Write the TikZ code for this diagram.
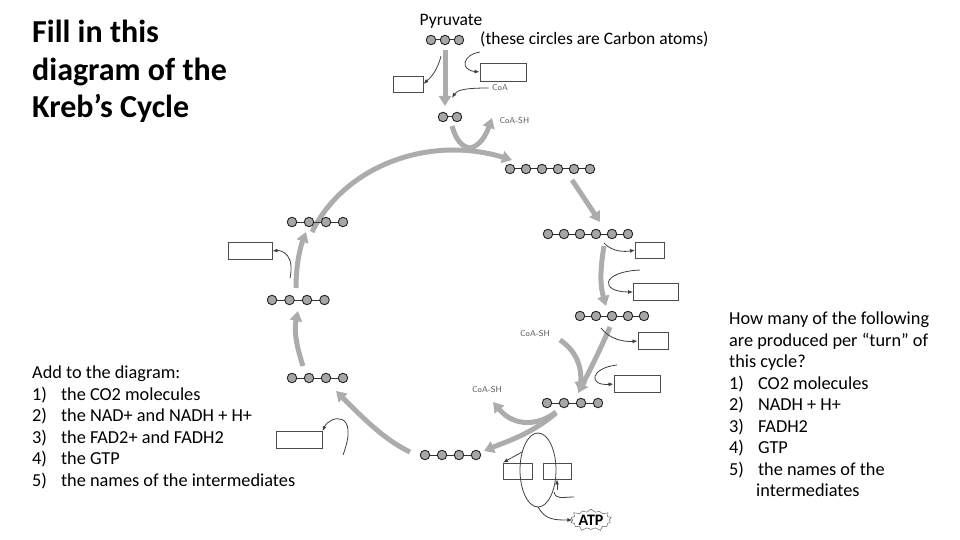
\documentclass[tikz,border=0pt]{standalone}
\usepackage{fontspec}
\setmainfont{Carlito}
\usetikzlibrary{arrows.meta,shapes.symbols}
\begin{document}
\begin{tikzpicture}[x=1pt,y=-1pt,
  catom/.style={circle,draw=black!85,fill=gray!70,inner sep=0pt,minimum size=9.5pt,line width=0.9pt},
  bond/.style={black!80,line width=1pt},
  box/.style={draw=black!70,line width=0.9pt,fill=white,inner sep=0pt},
  big/.style={draw=gray!65,line width=5pt,-{Triangle[length=10pt,width=12pt]}},
  thin/.style={draw=black!75,line width=0.8pt,-{Latex[length=5pt,width=4pt]}},
  lab/.style={font=\sffamily\fontsize{8.5}{9}\selectfont,text=gray!70!black},
  txt/.style={font=\fontsize{18.3}{21.5}\selectfont,align=left,anchor=north west,inner sep=0pt}]
\useasboundingbox (0,0) rectangle (960,540);
\newcommand{\mychain}[5]{% name, n, x0, y, step
  \foreach \i in {1,...,#2}{\coordinate (#1\i) at ({#3+(\i-1)*#5},#4);}
  \draw[bond] (#11) -- (#1#2);
  \foreach \i in {1,...,#2}{\node[catom] (#1n\i) at (#1\i) {};}
}
% titles
\node[txt,font=\bfseries\fontsize{32}{37.5}\selectfont] (title) at (32,20) {Fill in this\\diagram of the\\Kreb’s Cycle};
\node[txt] (add) at (32,366) {Add to the diagram:\\1)\hspace{14pt}the CO2 molecules\\2)\hspace{14pt}the NAD+ and NADH + H+\\3)\hspace{14pt}the FAD2+ and FADH2\\4)\hspace{14pt}the GTP\\5)\hspace{14pt}the names of the intermediates};
\node[txt] (howmany) at (729,312) {How many of the following\\are produced per “turn” of\\this cycle?\\1)\hspace{14pt}CO2 molecules\\2)\hspace{14pt}NADH + H+\\3)\hspace{14pt}FADH2\\4)\hspace{14pt}GTP\\5)\hspace{14pt}the names of the\\\hspace{27pt}intermediates};
\node[font=\fontsize{17.5}{18}\selectfont,inner sep=0pt] (pyr) at (451,21) {Pyruvate};
\node[font=\fontsize{17.5}{18}\selectfont,inner sep=0pt,anchor=west] (note) at (480,39) {(these circles are Carbon atoms)};
% main big arrows
\draw[big] (445,50) -- (445,106);
\draw[big] (312,232) .. controls (345,165) and (430,135) .. (512,160);
\draw[big] (452,126) .. controls (456,140) and (462,147) .. (470,148) .. controls (480,146) and (486,135) .. (492,118);
\draw[big] (572,180) -- (600,222);
\draw[big] (604,246) .. controls (600,270) and (600,285) .. (606,306);
\draw[big] (610,327) .. controls (600,350) and (590,370) .. (578,393);
\draw[big] (560,340) .. controls (575,350) and (582,365) .. (580,392);
\draw[big] (556,412) .. controls (540,425) and (515,428) .. (493,402);
\draw[big] (556,413) .. controls (530,435) and (505,442) .. (484,451);
\draw[big] (410,452) .. controls (385,440) and (365,420) .. (336,391);
\draw[big] (303,366) .. controls (296,345) and (294,330) .. (298,311);
\draw[big] (296,288) .. controls (296,265) and (300,248) .. (306,232);
% carbon chains
\mychain{p}{3}{431}{40}{14}
\mychain{a}{2}{443}{117}{14}
\mychain{c}{6}{510}{169}{16}
\mychain{d}{6}{548}{234}{16}
\mychain{e}{5}{580}{316}{16}
\mychain{f}{4}{547}{403}{17}
\mychain{g}{4}{425}{455}{17}
\mychain{h}{4}{292}{378}{17}
\mychain{k}{4}{272}{300}{17.5}
\mychain{m}{4}{292}{222}{17}
% boxes
\node[box,minimum width=30pt,minimum height=16pt] (b1) at (408,84) {};
\node[box,minimum width=46pt,minimum height=18pt] (b2) at (503,72) {};
\node[box,minimum width=29pt,minimum height=16pt] (b3) at (650,250) {};
\node[box,minimum width=45pt,minimum height=17pt] (b4) at (656,292) {};
\node[box,minimum width=30pt,minimum height=17pt] (b5) at (653,341) {};
\node[box,minimum width=46pt,minimum height=17pt] (b6) at (637,384) {};
\node[box,minimum width=29pt,minimum height=16pt] (b7) at (518,471) {};
\node[box,minimum width=28pt,minimum height=16pt] (b8) at (557,471) {};
\node[box,minimum width=46pt,minimum height=17pt] (b9) at (299,440) {};
\node[box,minimum width=44pt,minimum height=17pt] (b10) at (250,251) {};
% labels
\node[lab] (coa) at (500,88) {CoA};
\node[lab,anchor=west] (coash1) at (496,121) {CoA-SH};
\node[lab] (coash2) at (535,334) {CoA-SH};
\node[lab] (coash3) at (487,390) {CoA-SH};
\node[starburst,starburst points=14,starburst point height=4pt,draw=black!70,fill=white,inner sep=0.5pt,font=\bfseries\fontsize{16}{16}\selectfont] (atp) at (591,520) {ATP};
% thin side arrows
\draw[thin] (441,56) .. controls (437,72) and (430,78) .. (b1.east);
\draw[thin] (480,52) .. controls (462,55) and (460,70) .. (b2.west);
\draw[thin] (coa.west) .. controls (465,88) and (457,90) .. (452,98);
\draw[thin] (604,243) .. controls (612,252) and (625,252) .. (b3.west);
\draw[thin] (640,270) .. controls (600,272) and (600,292) .. (b4.west);
\draw[thin] (601,328) .. controls (610,340) and (625,342) .. (b5.west);
\draw[thin] (617,365) .. controls (590,368) and (588,386) .. (b6.west);
\draw[thin] (343,455) .. controls (360,410) and (330,415) .. (b9.north east);
\draw[thin] (290,278) .. controls (295,255) and (282,250) .. (b10.east);
% GTP loop
\draw[draw=black!75,line width=0.8pt] (538,470) ellipse (18pt and 37pt);
\draw[thin] (522,452) -- (b7.north west);
\draw[thin] (557,490) -- (b8.south);
\draw[draw=black!75,line width=0.8pt] (574,497) .. controls (562,497) and (556,500) .. (554,492);
\draw[thin] (538,507) .. controls (545,520) and (555,520) .. (atp.west);
\end{tikzpicture}
\end{document}
